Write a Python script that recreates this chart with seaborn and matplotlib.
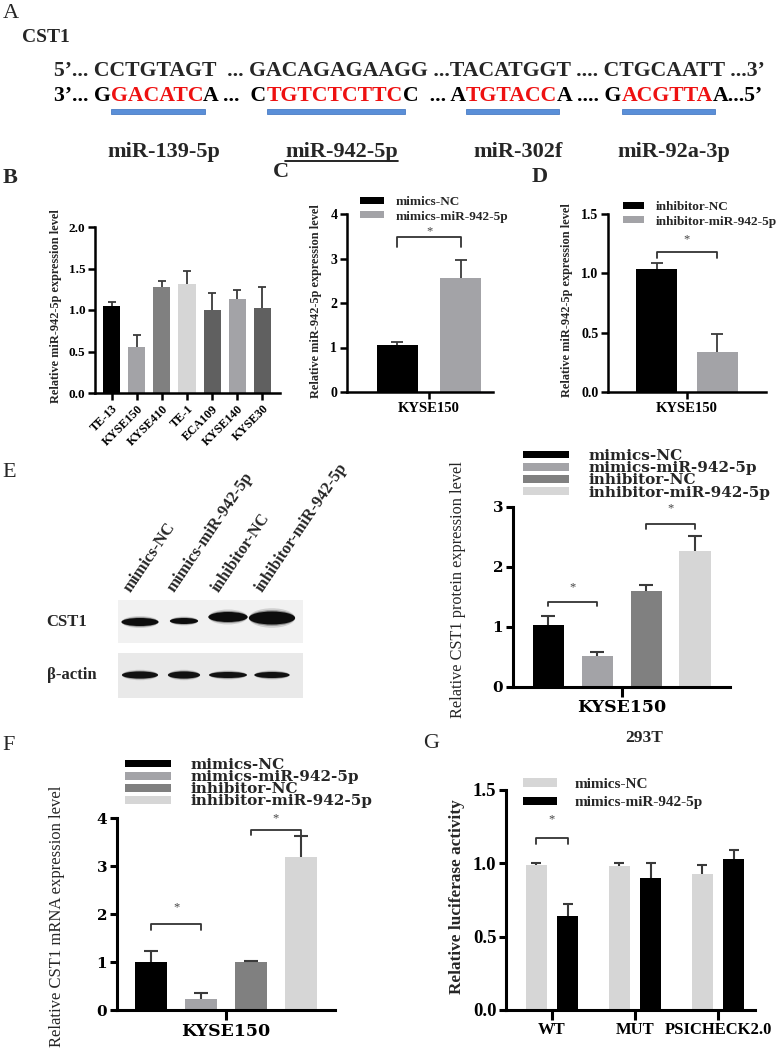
import matplotlib
matplotlib.use("Agg")
import matplotlib.pyplot as plt
from matplotlib.patches import Rectangle, Ellipse, Patch
import numpy as np
import pandas as pd
import seaborn as sns

W, H = 778, 1050

# ---------------- data ----------------
# A: CST1 3'UTR / miRNA seed pairing
seq_top = "5’... CCTGTAGT  ... GACAGAGAAGG ...TACATGGT .... CTGCAATT ...3’"
seq_bottom = [("3’... G", False), ("GACATC", True), ("A ...  C", False), ("TGTCTCTTC", True),
              ("C  ... A", False), ("TGTACC", True), ("A .... G", False), ("ACGTTA", True),
              ("A...5’", False)]
mirnas = ["miR-139-5p", "miR-942-5p", "miR-302f", "miR-92a-3p"]

# B: miR-942-5p in ESCC cell lines
cell_lines = ["TE-13", "KYSE150", "KYSE410", "TE-1", "ECA109", "KYSE140", "KYSE30"]
b_mean = [1.05, 0.55, 1.28, 1.31, 1.00, 1.13, 1.02]
b_err = [0.05, 0.15, 0.07, 0.16, 0.20, 0.11, 0.26]
b_colors = ["#000000", "#a3a3a7", "#808080", "#d6d6d6", "#606060", "#a3a3a7", "#606060"]

# C / D: transfection efficiency
c_groups = ["mimics-NC", "mimics-miR-942-5p"]
c_mean = [1.06, 2.57]
c_err = [0.06, 0.40]
d_groups = ["inhibitor-NC", "inhibitor-miR-942-5p"]
d_mean = [1.04, 0.34]
d_err = [0.05, 0.15]
pair_colors = ["#000000", "#a3a3a7"]

# E / F: CST1 protein and mRNA
four_groups = ["mimics-NC", "mimics-miR-942-5p", "inhibitor-NC", "inhibitor-miR-942-5p"]
four_colors = ["#000000", "#a3a3a7", "#808080", "#d6d6d6"]
e_mean = [1.03, 0.51, 1.60, 2.27]
e_err = [0.16, 0.08, 0.10, 0.24]
f_mean = [1.00, 0.22, 1.01, 3.18]
f_err = [0.22, 0.14, 0.02, 0.44]

# E: western blot band sizes (lane width units / pixel thickness)
cst1_width = [0.84, 0.64, 0.89, 1.05]
cst1_thick = [8, 6, 10, 13]
cst1_y = [22, 21, 17, 18]
actin_width = [0.82, 0.73, 0.86, 0.80]
actin_thick = [7, 7, 6, 6]

# G: luciferase reporter in 293T
constructs = ["WT", "MUT", "PSICHECK2.0"]
g_groups = ["mimics-NC", "mimics-miR-942-5p"]
g_nc_mean = [0.99, 0.98, 0.93]
g_nc_err = [0.01, 0.02, 0.06]
g_mir_mean = [0.64, 0.90, 1.03]
g_mir_err = [0.08, 0.10, 0.06]
g_colors = ["#d6d6d6", "#000000"]

# ---------------- style ----------------
sns.set_style("ticks")
plt.rcParams["font.family"] = ["Liberation Serif", "DejaVu Serif"]
plt.rcParams["font.weight"] = "bold"
plt.rcParams["axes.labelweight"] = "bold"
WIDE = ["DejaVu Serif"]

fig = plt.figure(figsize=(W / 100, H / 100), dpi=100)
renderer = fig.canvas.get_renderer()


def fx(x):
    return x / W


def fy(y):
    return 1 - y / H


def add_ax(x0, y0, x1, y1):
    return fig.add_axes([fx(x0), fy(y1), (x1 - x0) / W, (y1 - y0) / H])


def style_axis(ax, lw, size, family=None):
    sns.despine(ax=ax)
    for s in ("left", "bottom"):
        ax.spines[s].set_linewidth(lw)
        ax.spines[s].set_color("black")
    ax.tick_params(direction="out", length=5, width=lw, colors="black", labelsize=size, pad=2)
    if family:
        ax.tick_params(labelfontfamily=family)
    ax.set_xlabel("")


def add_errors(ax, bars, means, errs, capsize, lw):
    # upward-only error bars, cap on top only
    xs = [p.get_x() + p.get_width() / 2 for p in bars]
    _, caps, _ = ax.errorbar(xs, means, yerr=[np.zeros(len(means)), errs], fmt="none",
                             ecolor="#3a3a3a", elinewidth=lw, capsize=capsize, capthick=lw,
                             zorder=3, clip_on=False)
    caps[0].set_visible(False)
    return xs


def bracket(ax, xa, xb, y_top, y_leg, star_y, fs=9):
    ax.plot([xa, xa, xb, xb], [y_leg, y_top, y_top, y_leg], color="#333333", lw=1.3, clip_on=False)
    ax.text((xa + xb) / 2, star_y, "*", ha="center", va="center", fontsize=fs,
            color="#444444", fontweight="normal", clip_on=False)


def hue_bars(ax, groups, means, colors, width, gap):
    df = pd.DataFrame({"cell": ["KYSE150"] * len(groups), "group": groups, "value": means})
    sns.barplot(data=df, x="cell", y="value", hue="group", hue_order=groups, palette=colors,
                width=width, gap=gap, errorbar=None, saturation=1, linewidth=0,
                legend=False, ax=ax)
    return sorted(ax.patches, key=lambda p: p.get_x())


def add_legend(ax, groups, colors, x, y, fs, family, hl, hh, spacing, pad):
    handles = [Patch(facecolor=c, edgecolor="none") for c in colors]
    ax.legend(handles, groups, loc="upper left", bbox_to_anchor=(fx(x), fy(y)),
              bbox_transform=fig.transFigure, frameon=False, borderpad=0, borderaxespad=0,
              handlelength=hl, handleheight=hh, labelspacing=spacing, handletextpad=pad,
              prop={"family": family, "weight": "bold", "size": fs})


def panel_label(s, x, y, bold=False):
    fig.text(fx(x), fy(y), s, fontsize=16, fontweight="bold" if bold else "normal",
             va="baseline", ha="left")


# ---------------- A ----------------
panel_label("A", 3, 18)
fig.text(fx(22), fy(42), "CST1", fontsize=14, va="baseline")
SEQ = dict(fontsize=15.7, va="baseline", fontweight="bold")
fig.text(fx(54), fy(76), seq_top, **SEQ)
x = fx(54)
red_spans = []
for piece, is_red in seq_bottom:
    t = fig.text(x, fy(101), piece, color="#ee1111" if is_red else "black", **SEQ)
    ext = t.get_window_extent(renderer=renderer)
    if is_red:
        red_spans.append((ext.x0, ext.x1))
    x = ext.x1 / W
for (x0, x1), name in zip(red_spans, mirnas):
    fig.add_artist(Rectangle((x0 / W, fy(114)), (x1 - x0 + 2) / W, 5 / H,
                             transform=fig.transFigure, facecolor="#5a8fd8",
                             edgecolor="#4a7cc4", lw=0.6))
    lab = fig.text((x0 + x1) / 2 / W + fx(7), fy(157), name, ha="center", va="baseline",
                   fontsize=16)
    if name == "miR-942-5p":
        e = lab.get_window_extent(renderer=renderer)
        fig.add_artist(plt.Line2D([e.x0 / W, e.x1 / W], [fy(161), fy(161)], color="black", lw=1.2))

# ---------------- B ----------------
panel_label("B", 3, 183, bold=True)
axb = add_ax(95, 227, 280, 393)
df_b = pd.DataFrame({"line": cell_lines, "value": b_mean})
sns.barplot(data=df_b, x="line", y="value", hue="line", palette=b_colors, dodge=False,
            width=0.68, errorbar=None, saturation=1, linewidth=0, legend=False, ax=axb)
bars_b = sorted(axb.patches, key=lambda p: p.get_x())
add_errors(axb, bars_b, b_mean, b_err, 3.2, 1.3)
axb.set_ylim(0, 2)
axb.set_yticks([0, 0.5, 1.0, 1.5, 2.0], ["0.0", "0.5", "1.0", "1.5", "2.0"])
axb.set_xlim(-0.66, 6.70)
style_axis(axb, 1.8, 9.5)
axb.tick_params(axis="x", labelsize=8.8, labelrotation=45)
for lab in axb.get_xticklabels():
    lab.set_ha("right")
    lab.set_rotation_mode("anchor")
axb.set_ylabel("Relative miR-942-5p expression level", fontsize=8.8)
axb.yaxis.set_label_coords(fx(62), fy(306), transform=fig.transFigure)

# ---------------- C ----------------
panel_label("C", 273, 177, bold=True)
axc = add_ax(347, 214, 493, 392)
bars_c = hue_bars(axc, c_groups, c_mean, pair_colors, 0.87, 0.354)
xc = add_errors(axc, bars_c, c_mean, c_err, 4.3, 1.3)
axc.set_ylim(0, 4)
axc.set_yticks([0, 1, 2, 3, 4])
axc.set_xlim(-0.562, 0.438)
style_axis(axc, 1.8, 10)
axc.tick_params(axis="x", labelsize=10.5)
axc.set_ylabel("Relative miR-942-5p expression level", fontsize=8.8)
axc.yaxis.set_label_coords(fx(322), fy(301), transform=fig.transFigure)
bracket(axc, xc[0], xc[1], 3.48, 3.26, 3.62)
add_legend(axc, c_groups, pair_colors, 360, 196, 9.5, "Liberation Serif", 1.8, 0.45, 0.2, 0.9)

# ---------------- D ----------------
panel_label("D", 532, 182, bold=True)
axd = add_ax(608, 214, 766, 392)
bars_d = hue_bars(axd, d_groups, d_mean, pair_colors, 0.77, 0.32)
xd = add_errors(axd, bars_d, d_mean, d_err, 4.3, 1.3)
axd.set_ylim(0, 1.5)
axd.set_yticks([0, 0.5, 1.0, 1.5], ["0.0", "0.5", "1.0", "1.5"])
axd.set_xlim(-0.503, 0.503)
style_axis(axd, 1.8, 10)
axd.tick_params(axis="x", labelsize=10.5)
axd.set_ylabel("Relative miR-942-5p expression level", fontsize=8.8)
axd.yaxis.set_label_coords(fx(573), fy(300), transform=fig.transFigure)
bracket(axd, xd[0], xd[1], 1.18, 1.13, 1.29)
add_legend(axd, d_groups, pair_colors, 623, 201, 9.5, "Liberation Serif", 1.6, 0.45, 0.2, 0.9)

# ---------------- E: blot ----------------
panel_label("E", 2, 477)
axw = add_ax(118, 600, 303, 698)
axw.set_xlim(-0.5, 3.705)
axw.set_ylim(98, 0)
axw.axis("off")
axw.add_patch(Rectangle((-0.5, 0), 4.205, 43, facecolor="#f1f1f1", edgecolor="none"))
axw.add_patch(Rectangle((-0.5, 53), 4.205, 45, facecolor="#e9e9e9", edgecolor="none"))
for i in range(len(four_groups)):
    for scale, alpha in ((1.5, 0.15), (1.2, 0.35), (1.0, 1.0)):
        axw.add_patch(Ellipse((i, cst1_y[i]), cst1_width[i], cst1_thick[i] * scale,
                              facecolor="#0d0d0d", edgecolor="none", alpha=alpha))
        axw.add_patch(Ellipse((i, 75), actin_width[i], actin_thick[i] * scale,
                              facecolor="#111111", edgecolor="none", alpha=alpha))
    axw.text(i - 0.22, -7, four_groups[i], rotation=56, rotation_mode="anchor",
             ha="left", va="baseline", fontsize=12)
fig.text(fx(67), fy(622), "CST1", ha="center", va="center", fontsize=12)
fig.text(fx(72), fy(675), "β-actin", ha="center", va="center", fontsize=12)

# ---------------- E: protein ----------------
axe = add_ax(513, 507, 730, 687)
bars_e = hue_bars(axe, four_groups, e_mean, four_colors, 0.903, 0.35)
xe = add_errors(axe, bars_e, e_mean, e_err, 4.8, 1.5)
axe.set_ylim(0, 3)
axe.set_yticks([0, 1, 2, 3])
axe.set_xlim(-0.502, 0.498)
style_axis(axe, 2.2, 11, WIDE)
axe.tick_params(axis="x", labelsize=12.5, length=7)
axe.set_ylabel("Relative CST1 protein expression level", fontsize=11.7, fontweight="normal")
axe.yaxis.set_label_coords(fx(466), fy(590), transform=fig.transFigure)
bracket(axe, xe[0], xe[1], 1.41, 1.35, 1.66)
bracket(axe, xe[2], xe[3], 2.71, 2.64, 2.97)
add_legend(axe, four_groups, four_colors, 523, 449, 11, WIDE, 3.0, 0.4, -0.12, 1.3)

# ---------------- F ----------------
panel_label("F", 2, 750)
axf = add_ax(117, 818, 335, 1010)
bars_f = hue_bars(axf, four_groups, f_mean, four_colors, 0.914, 0.35)
xf = add_errors(axf, bars_f, f_mean, f_err, 4.8, 1.5)
axf.set_ylim(0, 4)
axf.set_yticks([0, 1, 2, 3, 4])
axf.set_xlim(-0.5, 0.5)
style_axis(axf, 2.2, 11, WIDE)
axf.tick_params(axis="x", labelsize=12.5, length=7)
axf.set_ylabel("Relative CST1 mRNA expression level", fontsize=12, fontweight="normal")
axf.yaxis.set_label_coords(fx(65), fy(916), transform=fig.transFigure)
bracket(axf, xf[0], xf[1], 1.80, 1.67, 2.13)
bracket(axf, xf[2], xf[3], 3.76, 3.65, 3.99)
add_legend(axf, four_groups, four_colors, 125, 758, 11, WIDE, 3.0, 0.4, -0.12, 1.3)

# ---------------- G ----------------
panel_label("G", 423, 748)
fig.text(fx(644), fy(742), "293T", ha="center", va="baseline", fontsize=12.5)
axg = add_ax(506, 790, 755, 1010)
df_g = pd.DataFrame({
    "construct": [c for c in constructs for _ in g_groups],
    "group": g_groups * len(constructs),
    "value": [v for pair in zip(g_nc_mean, g_mir_mean) for v in pair],
})
g_err = [v for pair in zip(g_nc_err, g_mir_err) for v in pair]
sns.barplot(data=df_g, x="construct", y="value", hue="group", hue_order=g_groups,
            palette=g_colors, width=0.75, gap=0.33, errorbar=None, saturation=1,
            linewidth=0, legend=False, ax=axg)
bars_g = sorted(axg.patches, key=lambda p: p.get_x())
xg = add_errors(axg, bars_g, df_g["value"].tolist(), g_err, 3.8, 1.5)
axg.set_ylim(0, 1.5)
axg.set_yticks([0, 0.5, 1.0, 1.5], ["0.0", "0.5", "1.0", "1.5"])
axg.set_xlim(-0.554, 2.446)
style_axis(axg, 2.2, 13.5)
axg.tick_params(axis="x", labelsize=12, length=7)
axg.set_ylabel("Relative luciferase activity", fontsize=12.4)
axg.yaxis.set_label_coords(fx(465), fy(897), transform=fig.transFigure)
bracket(axg, xg[0], xg[1], 1.17, 1.13, 1.30)
add_legend(axg, g_groups, g_colors, 523, 778, 11, "Liberation Serif", 2.2, 0.5, 0.35, 1.2)

fig.savefig("out.png", dpi=100)
